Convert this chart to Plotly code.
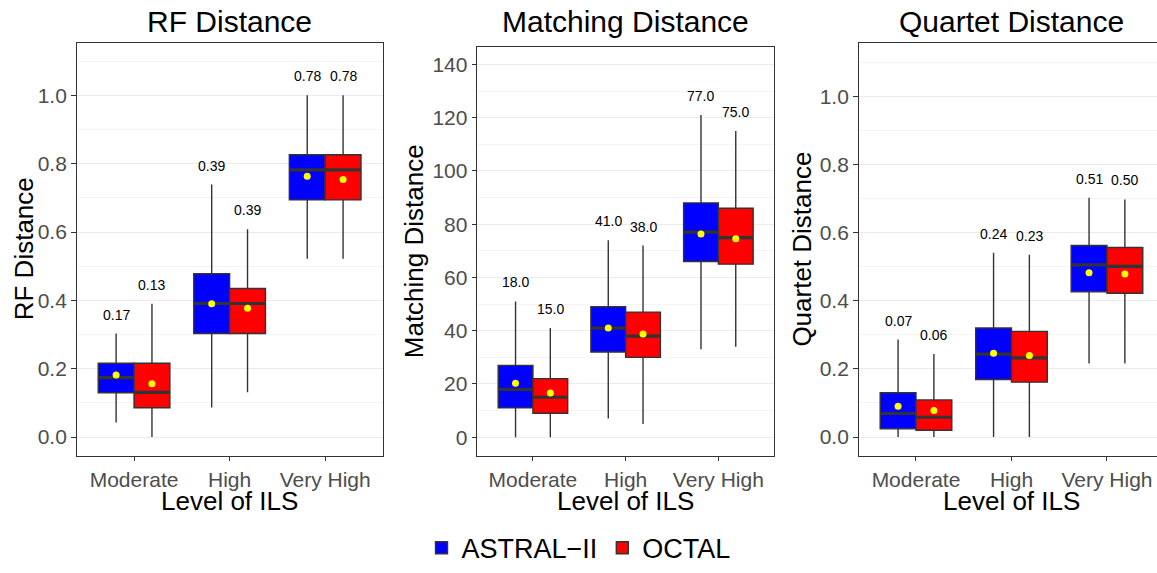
import plotly.graph_objects as go

W, H = 1157, 573

categories = ["Moderate", "High", "Very High"]
series_names = ["ASTRAL\u2212II", "OCTAL"]
series_colors = ["#0000FF", "#FF0000"]

# RF distance
rf_astral_q1 = [0.130, 0.303, 0.694]
rf_astral_med = [0.174, 0.391, 0.782]
rf_astral_q3 = [0.216, 0.478, 0.826]
rf_astral_lo = [0.043, 0.087, 0.522]
rf_astral_hi = [0.303, 0.739, 1.000]
rf_astral_mean = [0.182, 0.390, 0.763]
rf_astral_lab = ["0.17", "0.39", "0.78"]
rf_octal_q1 = [0.086, 0.303, 0.694]
rf_octal_med = [0.131, 0.391, 0.782]
rf_octal_q3 = [0.216, 0.435, 0.826]
rf_octal_lo = [0.000, 0.131, 0.522]
rf_octal_hi = [0.390, 0.608, 1.000]
rf_octal_mean = [0.156, 0.377, 0.754]
rf_octal_lab = ["0.13", "0.39", "0.78"]

# Matching distance
md_astral_q1 = [11, 32, 66]
md_astral_med = [18, 41, 77]
md_astral_q3 = [27, 49, 88]
md_astral_lo = [0, 7, 33]
md_astral_hi = [51, 74, 121]
md_astral_mean = [20.3, 41.0, 76.3]
md_astral_lab = ["18.0", "41.0", "77.0"]
md_octal_q1 = [9, 30, 65]
md_octal_med = [15, 38, 75]
md_octal_q3 = [22, 47, 86]
md_octal_lo = [0, 5, 34]
md_octal_hi = [41, 72, 115]
md_octal_mean = [16.6, 38.8, 74.5]
md_octal_lab = ["15.0", "38.0", "75.0"]

# Quartet distance
qd_astral_q1 = [0.024, 0.169, 0.426]
qd_astral_med = [0.069, 0.243, 0.505]
qd_astral_q3 = [0.130, 0.320, 0.562]
qd_astral_lo = [0.000, 0.000, 0.216]
qd_astral_hi = [0.286, 0.541, 0.702]
qd_astral_mean = [0.090, 0.246, 0.482]
qd_astral_lab = ["0.07", "0.24", "0.51"]
qd_octal_q1 = [0.020, 0.161, 0.422]
qd_octal_med = [0.058, 0.232, 0.501]
qd_octal_q3 = [0.109, 0.310, 0.556]
qd_octal_lo = [0.000, 0.000, 0.216]
qd_octal_hi = [0.244, 0.535, 0.697]
qd_octal_mean = [0.078, 0.239, 0.478]
qd_octal_lab = ["0.06", "0.23", "0.50"]

panel_titles = ["RF Distance", "Matching Distance", "Quartet Distance"]
y_titles = ["RF Distance", "Matching Distance", "Quartet Distance"]
x_title = "Level of ILS"

panels = [
    [(rf_astral_q1, rf_astral_med, rf_astral_q3, rf_astral_lo, rf_astral_hi, rf_astral_mean, rf_astral_lab),
     (rf_octal_q1, rf_octal_med, rf_octal_q3, rf_octal_lo, rf_octal_hi, rf_octal_mean, rf_octal_lab)],
    [(md_astral_q1, md_astral_med, md_astral_q3, md_astral_lo, md_astral_hi, md_astral_mean, md_astral_lab),
     (md_octal_q1, md_octal_med, md_octal_q3, md_octal_lo, md_octal_hi, md_octal_mean, md_octal_lab)],
    [(qd_astral_q1, qd_astral_med, qd_astral_q3, qd_astral_lo, qd_astral_hi, qd_astral_mean, qd_astral_lab),
     (qd_octal_q1, qd_octal_med, qd_octal_q3, qd_octal_lo, qd_octal_hi, qd_octal_mean, qd_octal_lab)],
]

# layout geometry (pixels)
px_left = [76.7, 477.3, 858.7]
px_right = [382.5, 774.0, 1157.0]
px_top = [43.3, 47.3, 44.0]
px_bottom = 462.3
x_ranges = [[0.4, 3.6], [0.4, 3.6], [0.4, 3.524]]
y_ranges = [[-0.0548, 1.154], [-7.0, 146.7], [-0.0552, 1.155]]
y_dticks = [0.2, 20, 0.2]
y_minor = [0.1, 10, 0.1]
y_formats = [".1f", "d", ".1f"]
ytitle_x = [24, 414, 802]
title_cx = [229.6, 625.7, 1011.5]

dodge = 0.1875
bw = 0.375
FONT = "Liberation Sans, Arial, sans-serif"

fig = go.Figure()
annotations = []

for p, panel in enumerate(panels):
    xa = "x" if p == 0 else f"x{p+1}"
    ya = "y" if p == 0 else f"y{p+1}"
    for s, (q1, med, q3, lo, hi, mean, lab) in enumerate(panel):
        off = -dodge if s == 0 else dodge
        xs = [i + 1 + off for i in range(len(categories))]
        fig.add_trace(go.Box(
            x=xs, q1=q1, median=med, q3=q3, lowerfence=lo, upperfence=hi,
            width=bw, whiskerwidth=0, fillcolor=series_colors[s],
            line=dict(color="#333333", width=1.4), name=series_names[s],
            legendgroup=series_names[s], showlegend=(p == 0),
            xaxis=xa, yaxis=ya, boxpoints=False, hoverinfo="skip"))
        for i in range(len(categories)):
            fig.add_trace(go.Scatter(
                x=[xs[i] - bw / 2, xs[i] + bw / 2], y=[med[i], med[i]],
                mode="lines", line=dict(color="#333333", width=3.2),
                showlegend=False, hoverinfo="skip", xaxis=xa, yaxis=ya))
        fig.add_trace(go.Scatter(
            x=xs, y=mean, mode="markers",
            marker=dict(color="#FFFF00", size=7, line=dict(width=0)),
            showlegend=False, hoverinfo="skip", xaxis=xa, yaxis=ya))
        for i in range(len(categories)):
            annotations.append(dict(
                x=xs[i], y=hi[i], xref=xa, yref=ya, text=lab[i], showarrow=False,
                yshift=19, font=dict(size=14, color="black", family=FONT)))

layout = dict(
    width=W, height=H, margin=dict(l=0, r=0, t=0, b=0),
    paper_bgcolor="white", plot_bgcolor="white", boxmode="overlay",
    font=dict(family=FONT),
    showlegend=True,
    legend=dict(orientation="h", x=0.5, xanchor="center", y=(H - 556) / H, yanchor="middle",
                font=dict(size=27, color="black", family=FONT), itemwidth=30,
                bgcolor="rgba(0,0,0,0)"),
)

for p in range(3):
    xk = "xaxis" if p == 0 else f"xaxis{p+1}"
    yk = "yaxis" if p == 0 else f"yaxis{p+1}"
    ya = "y" if p == 0 else f"y{p+1}"
    xa = "x" if p == 0 else f"x{p+1}"
    layout[xk] = dict(
        domain=[px_left[p] / W, px_right[p] / W], range=x_ranges[p], anchor=ya,
        tickmode="array", tickvals=[1, 2, 3], ticktext=categories,
        showgrid=False, zeroline=False, showline=True, mirror=True,
        linecolor="#333333", linewidth=1.3, ticks="outside", ticklen=4.5,
        tickwidth=1.2, tickcolor="#333333",
        tickfont=dict(size=21, color="#4D4D4D", family=FONT), fixedrange=True)
    layout[yk] = dict(
        domain=[(H - px_bottom) / H, (H - px_top[p]) / H], range=y_ranges[p], anchor=xa,
        dtick=y_dticks[p], tick0=0, tickformat=y_formats[p],
        showgrid=True, gridcolor="#EBEBEB", gridwidth=1.2, zeroline=False,
        minor=dict(dtick=y_minor[p], tick0=0, showgrid=True, gridcolor="#F4F4F4", gridwidth=0.8, ticks=""),
        showline=True, mirror=(p != 2), linecolor="#333333", linewidth=1.3,
        ticks="outside", ticklen=4.5, tickwidth=1.2, tickcolor="#333333",
        tickfont=dict(size=21, color="#4D4D4D", family=FONT), fixedrange=True)
    annotations.append(dict(
        x=title_cx[p] / W, y=(H - 22) / H, xref="paper", yref="paper", text=panel_titles[p],
        showarrow=False, xanchor="center", yanchor="middle",
        font=dict(size=30, color="black", family=FONT)))
    annotations.append(dict(
        x=title_cx[p] / W, y=(H - 508) / H, xref="paper", yref="paper", text=x_title,
        showarrow=False, xanchor="center", yanchor="middle",
        font=dict(size=26, color="black", family=FONT)))
    annotations.append(dict(
        x=ytitle_x[p] / W, y=(H - (px_top[p] + px_bottom) / 2) / H, xref="paper", yref="paper",
        text=y_titles[p], showarrow=False, xanchor="center", yanchor="middle", textangle=-90,
        font=dict(size=26, color="black", family=FONT)))

layout["annotations"] = annotations
fig.update_layout(**layout)
fig.write_html("out.html", config={"displayModeBar": False},
               post_script="document.body.style.margin='0px';")
